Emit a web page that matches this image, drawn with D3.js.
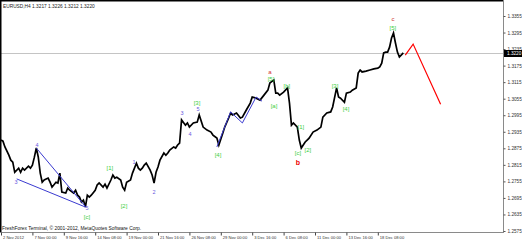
<!DOCTYPE html>
<html>
<head>
<meta charset="utf-8">
<title>EURUSD,H4</title>
<script src="https://d3js.org/d3.v7.min.js"></script>
<style>
	body{margin:0;background:#fff;}
	svg{display:block;}
	text{font-family:"Liberation Sans",Arial,sans-serif;}
</style>
</head>
<body>
<div id="chart"></div>
<script>

// H4 bars counted from 2 Nov 2012 08:00, with the price read at that bar
var bars = [0,1,2,4,5,6,7,9,10,11,12,14,15,16,17,18,19,20,21,22,24,25,26,28,29,30,31,33,34,35,37,38,39,40,41,42,43,44,45,46,48,49,50,52,53,54,56,57,58,59,61,62,63,64,66,67,69,70,71,72,73,74,76,77,78,79,80,81,83,84,85,86,88,89,90,91,92,94,95,96,98,100,101,103,105,107,108,110,111,113,114,116,117,118,120,122,123,125,127,128,130,132,134,136,137,139,140,141,142,144,146,147,148,149,151,152,153,155,156,157,159,161,163,164,166,168,169,171,172,173,175,176,178,179,181,182,183,184,186,188,190,192,193,194,195,196,197,198,199,200,201,202,203,205];
var closes = [1.2905,1.2901,1.2880,1.2850,1.2832,1.2825,1.2788,1.2803,1.2788,1.2803,1.2796,1.2810,1.2803,1.2814,1.2843,1.2876,1.2843,1.2785,1.2752,1.2760,1.2767,1.2752,1.2734,1.2752,1.2749,1.2785,1.2716,1.2713,1.2731,1.2723,1.2713,1.2723,1.2705,1.2698,1.2680,1.2687,1.2662,1.2705,1.2698,1.2705,1.2723,1.2742,1.2749,1.2734,1.2745,1.2731,1.2760,1.2778,1.2767,1.2770,1.2760,1.2734,1.2723,1.2752,1.2760,1.2785,1.2821,1.2803,1.2796,1.2803,1.2814,1.2821,1.2796,1.2778,1.2749,1.2788,1.2807,1.2832,1.2858,1.2850,1.2858,1.2869,1.2880,1.2876,1.2887,1.2894,1.2978,1.2959,1.2967,1.2952,1.2967,1.2970,1.2996,1.2952,1.2941,1.2934,1.2923,1.2912,1.2887,1.2930,1.2952,1.2985,1.3003,1.2996,1.3003,1.2985,1.2988,1.3014,1.3039,1.3061,1.3057,1.3050,1.3068,1.3086,1.3112,1.3123,1.3075,1.3075,1.3068,1.3079,1.3094,1.3039,1.2959,1.2967,1.2952,1.2905,1.2876,1.2898,1.2905,1.2912,1.2934,1.2941,1.2952,1.2988,1.3003,1.3007,1.3025,1.3094,1.3061,1.3057,1.3042,1.3075,1.3079,1.3086,1.3094,1.3148,1.3159,1.3152,1.3155,1.3159,1.3163,1.3166,1.3170,1.3184,1.3221,1.3224,1.3224,1.3242,1.3275,1.3293,1.3257,1.3224,1.3206,1.3221];

var priceTicks = [1.3355,1.3295,1.3235,1.3175,1.3115,1.3055,1.2995,1.2935,1.2875,1.2815,1.2755,1.2695,1.2635,1.2575];
var timeTicks = [0,16,32,48,64,80,96,112,128,144,160,176,192];
var timeLabels = ['2 Nov 2012','7 Nov 00:00','9 Nov 16:00','14 Nov 08:00','19 Nov 00:00','21 Nov 16:00','26 Nov 08:00','29 Nov 00:00','3 Dec 16:00','6 Dec 08:00','11 Dec 00:00','13 Dec 16:00','18 Dec 08:00'];

var bid = 1.3220;
var header = 'EURUSD,H4  1.3217 1.3226 1.3212 1.3220';

// wave lines drawn on the chart (bar, price)
var wedgeTop = [[18,1.2876],[43,1.2664]];
var wedgeLow = [[8,1.2764],[43,1.2662]];
var zigzag = [[110,1.2880],[117,1.3007],[123,1.2967],[130,1.3061],[133,1.3046]];
var forecast = [[206,1.3213],[210,1.3253],[224,1.3035]];

// wave labels
var waveText  = ['3','4','5','1','2','3','4','5','[c]','[1]','[2]','[3]','[4]','[5]','[a]','[b]','[1]','[c]','[2]','[3]','[4]','[5]','a','b','c'];
var waveBar   = [7.6,18.3,43.8,67.8,78,92.2,96.3,100.4,43.8,55.5,62.7,99.9,110.6,137.6,139.1,145.7,152.8,151.3,156.4,170.2,175.8,199.7,137,151.3,199.7];
var wavePrice = [1.2753,1.2887,1.2658,1.2825,1.2716,1.3003,1.2927,1.3018,1.2626,1.2803,1.2666,1.3039,1.2851,1.3126,1.3028,1.3101,1.2952,1.2858,1.2869,1.3101,1.3018,1.3311,1.3152,1.2825,1.3344];
var waveKind  = ['m','m','m','m','m','m','m','m','g','g','g','g','g','g','g','g','g','g','g','g','g','g','r','R','r'];

var W = 522, H = 241, plotR = 503, plotB = 232;

var svg = d3.select('#chart').append('svg')
	.attr('width', W)
	.attr('height', H);

var x = d3.scaleLinear().domain([0,192]).range([1,377.8]);
var y = d3.scaleLinear().domain([1.2575,1.3355]).range([231,16]);

svg.append('clipPath').attr('id','plot')
	.append('rect').attr('x',1).attr('y',1).attr('width',plotR-1).attr('height',plotB-1);

var plot = svg.append('g').attr('clip-path','url(#plot)');

// bid line
plot.append('line')
	.attr('x1',0).attr('x2',plotR)
	.attr('y1',Math.round(y(bid))+0.5).attr('y2',Math.round(y(bid))+0.5)
	.attr('stroke','#c4c4c4');

var line = d3.line().x(function(d){ return x(d[0]); }).y(function(d){ return y(d[1]); });

var series = bars.map(function(b,i){ return [b, closes[i]]; });

plot.append('path')
	.datum(series)
	.attr('d', line)
	.attr('fill','none')
	.attr('stroke','#000')
	.attr('stroke-width',1.7)
	.attr('stroke-linejoin','miter');

[wedgeTop, wedgeLow, zigzag].forEach(function(pts){
	plot.append('path').datum(pts).attr('d', line)
		.attr('fill','none').attr('stroke','#3a3ad0').attr('stroke-width',1);
});

plot.append('path').datum(forecast).attr('d', line)
	.attr('fill','none').attr('stroke','#ff0000').attr('stroke-width',1.2);

var colors = {m:'#6a5ae0', g:'#3fcf3f', r:'#d03030', R:'#ee0000'};

plot.selectAll('text.wave')
	.data(waveText).enter()
	.append('text').attr('class','wave')
	.attr('x', function(d,i){ return x(waveBar[i]); })
	.attr('y', function(d,i){ return y(wavePrice[i]); })
	.attr('dy','0.35em')
	.attr('text-anchor','middle')
	.attr('font-size', function(d,i){ return waveKind[i]=='R' ? 7 : (waveKind[i]=='m' ? 5.5 : 6); })
	.attr('font-weight', function(d,i){ return waveKind[i]=='R' ? 'bold' : 'normal'; })
	.attr('fill', function(d,i){ return colors[waveKind[i]]; })
	.text(function(d){ return d; });

// header and copyright
svg.append('text').attr('x',3).attr('y',8).attr('font-size',4.8).attr('fill','#222').text(header);
svg.append('text').attr('x',2).attr('y',230).attr('font-size',4.9).attr('fill','#111')
	.text('FreshForex Terminal, \u00a9 2001-2012, MetaQuotes Software Corp.');

// frame
svg.append('line').attr('x1',0).attr('x2',plotR).attr('y1',0.5).attr('y2',0.5).attr('stroke','#000').attr('stroke-width',2);
svg.append('line').attr('x1',0.5).attr('x2',0.5).attr('y1',0).attr('y2',plotB).attr('stroke','#000').attr('stroke-width',2);
svg.append('line').attr('x1',plotR+0.5).attr('x2',plotR+0.5).attr('y1',0).attr('y2',plotB+1).attr('stroke','#8a8a8a');
svg.append('line').attr('x1',0).attr('x2',plotR+1).attr('y1',plotB+0.5).attr('y2',plotB+0.5).attr('stroke','#8a8a8a');

// price axis
var yAxis = svg.append('g')
	.attr('transform','translate('+(plotR+0.5)+',0)')
	.call(d3.axisRight(y).tickValues(priceTicks).tickSize(2).tickPadding(2).tickFormat(d3.format('.4f')));
yAxis.select('.domain').remove();
yAxis.selectAll('line').attr('stroke','#555');
yAxis.selectAll('text').attr('font-size',4.7).attr('fill','#333').attr('font-family','"Liberation Sans",Arial,sans-serif');

// time axis
var xAxis = svg.append('g')
	.attr('transform','translate(0,'+(plotB+0.5)+')')
	.call(d3.axisBottom(x).tickValues(timeTicks).tickSize(3).tickFormat(function(d,i){ return timeLabels[i]; }));
xAxis.select('.domain').remove();
xAxis.selectAll('line').attr('stroke','#444');
xAxis.selectAll('text')
	.attr('text-anchor','start')
	.attr('x',1.5).attr('y',4).attr('dy','0.71em')
	.attr('font-size',4.1).attr('fill','#333').attr('font-family','"Liberation Sans",Arial,sans-serif');

// bid label
var bidY = Math.round(y(bid))+0.5;
svg.append('rect').attr('x',plotR+1).attr('y',bidY-3.5).attr('width',W-plotR-1).attr('height',7).attr('fill','#000');
svg.append('text').attr('x',plotR+4).attr('y',bidY).attr('dy','0.35em')
	.attr('font-size',4.7).attr('fill','#fff').text(d3.format('.4f')(bid));

</script>
</body>
</html>
